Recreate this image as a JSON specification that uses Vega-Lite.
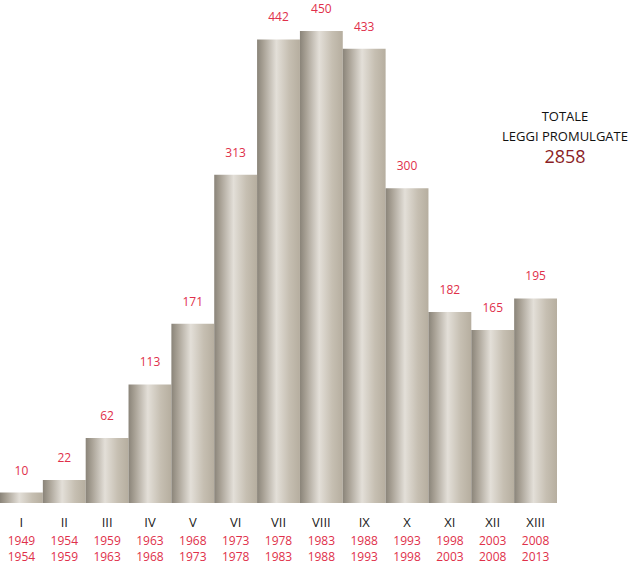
{
  "$schema": "https://vega.github.io/schema/vega-lite/v6.json",
  "width": 640,
  "height": 565,
  "autosize": {"type": "none"},
  "padding": 0,
  "background": "white",
  "config": {"view": {"stroke": null}, "text": {"font": "Open Sans"}},
  "data": {
    "values": [
      {"leg": "I", "start": "1949", "end": "1954", "leggi": 10},
      {"leg": "II", "start": "1954", "end": "1959", "leggi": 22},
      {"leg": "III", "start": "1959", "end": "1963", "leggi": 62},
      {"leg": "IV", "start": "1963", "end": "1968", "leggi": 113},
      {"leg": "V", "start": "1968", "end": "1973", "leggi": 171},
      {"leg": "VI", "start": "1973", "end": "1978", "leggi": 313},
      {"leg": "VII", "start": "1978", "end": "1983", "leggi": 442},
      {"leg": "VIII", "start": "1983", "end": "1988", "leggi": 450},
      {"leg": "IX", "start": "1988", "end": "1993", "leggi": 433},
      {"leg": "X", "start": "1993", "end": "1998", "leggi": 300},
      {"leg": "XI", "start": "1998", "end": "2003", "leggi": 182},
      {"leg": "XII", "start": "2003", "end": "2008", "leggi": 165},
      {"leg": "XIII", "start": "2008", "end": "2013", "leggi": 195}
    ]
  },
  "encoding": {
    "x": {
      "field": "leg",
      "type": "ordinal",
      "sort": null,
      "axis": null,
      "scale": {"range": [0, 557], "paddingInner": 0, "paddingOuter": 0}
    }
  },
  "layer": [
    {
      "mark": {
        "type": "bar",
        "color": {
          "gradient": "linear",
          "x1": 0, "x2": 1, "y1": 0, "y2": 0,
          "stops": [
            {"offset": 0, "color": "#8a8479"},
            {"offset": 0.15, "color": "#a9a296"},
            {"offset": 0.45, "color": "#e3dfd8"},
            {"offset": 0.75, "color": "#c6bfb2"},
            {"offset": 1, "color": "#b6ae9f"}
          ]
        }
      },
      "encoding": {
        "y": {
          "field": "leggi",
          "type": "quantitative",
          "axis": null,
          "scale": {"domain": [0, 450], "range": [503, 31]}
        }
      }
    },
    {
      "mark": {"type": "text", "color": "#e0304a", "fontSize": 12, "baseline": "middle", "dy": -22},
      "encoding": {
        "y": {"field": "leggi", "type": "quantitative"},
        "text": {"field": "leggi"}
      }
    },
    {
      "mark": {"type": "text", "color": "#222222", "fontSize": 13, "baseline": "middle"},
      "encoding": {"y": {"value": 523}, "text": {"field": "leg"}}
    },
    {
      "mark": {"type": "text", "color": "#e0304a", "fontSize": 12, "baseline": "middle"},
      "encoding": {"y": {"value": 541}, "text": {"field": "start"}}
    },
    {
      "mark": {"type": "text", "color": "#e0304a", "fontSize": 12, "baseline": "middle"},
      "encoding": {"y": {"value": 557}, "text": {"field": "end"}}
    },
    {
      "data": {"values": [{"t": "TOTALE"}]},
      "mark": {"type": "text", "color": "#111111", "fontSize": 13, "baseline": "middle"},
      "encoding": {"x": {"value": 565}, "y": {"value": 117}, "text": {"field": "t"}}
    },
    {
      "data": {"values": [{"t": "LEGGI PROMULGATE"}]},
      "mark": {"type": "text", "color": "#111111", "fontSize": 13, "baseline": "middle"},
      "encoding": {"x": {"value": 565}, "y": {"value": 137}, "text": {"field": "t"}}
    },
    {
      "data": {"values": [{"t": "2858"}]},
      "mark": {"type": "text", "color": "#8b1e26", "fontSize": 18, "baseline": "middle"},
      "encoding": {"x": {"value": 565}, "y": {"value": 158}, "text": {"field": "t"}}
    }
  ]
}
